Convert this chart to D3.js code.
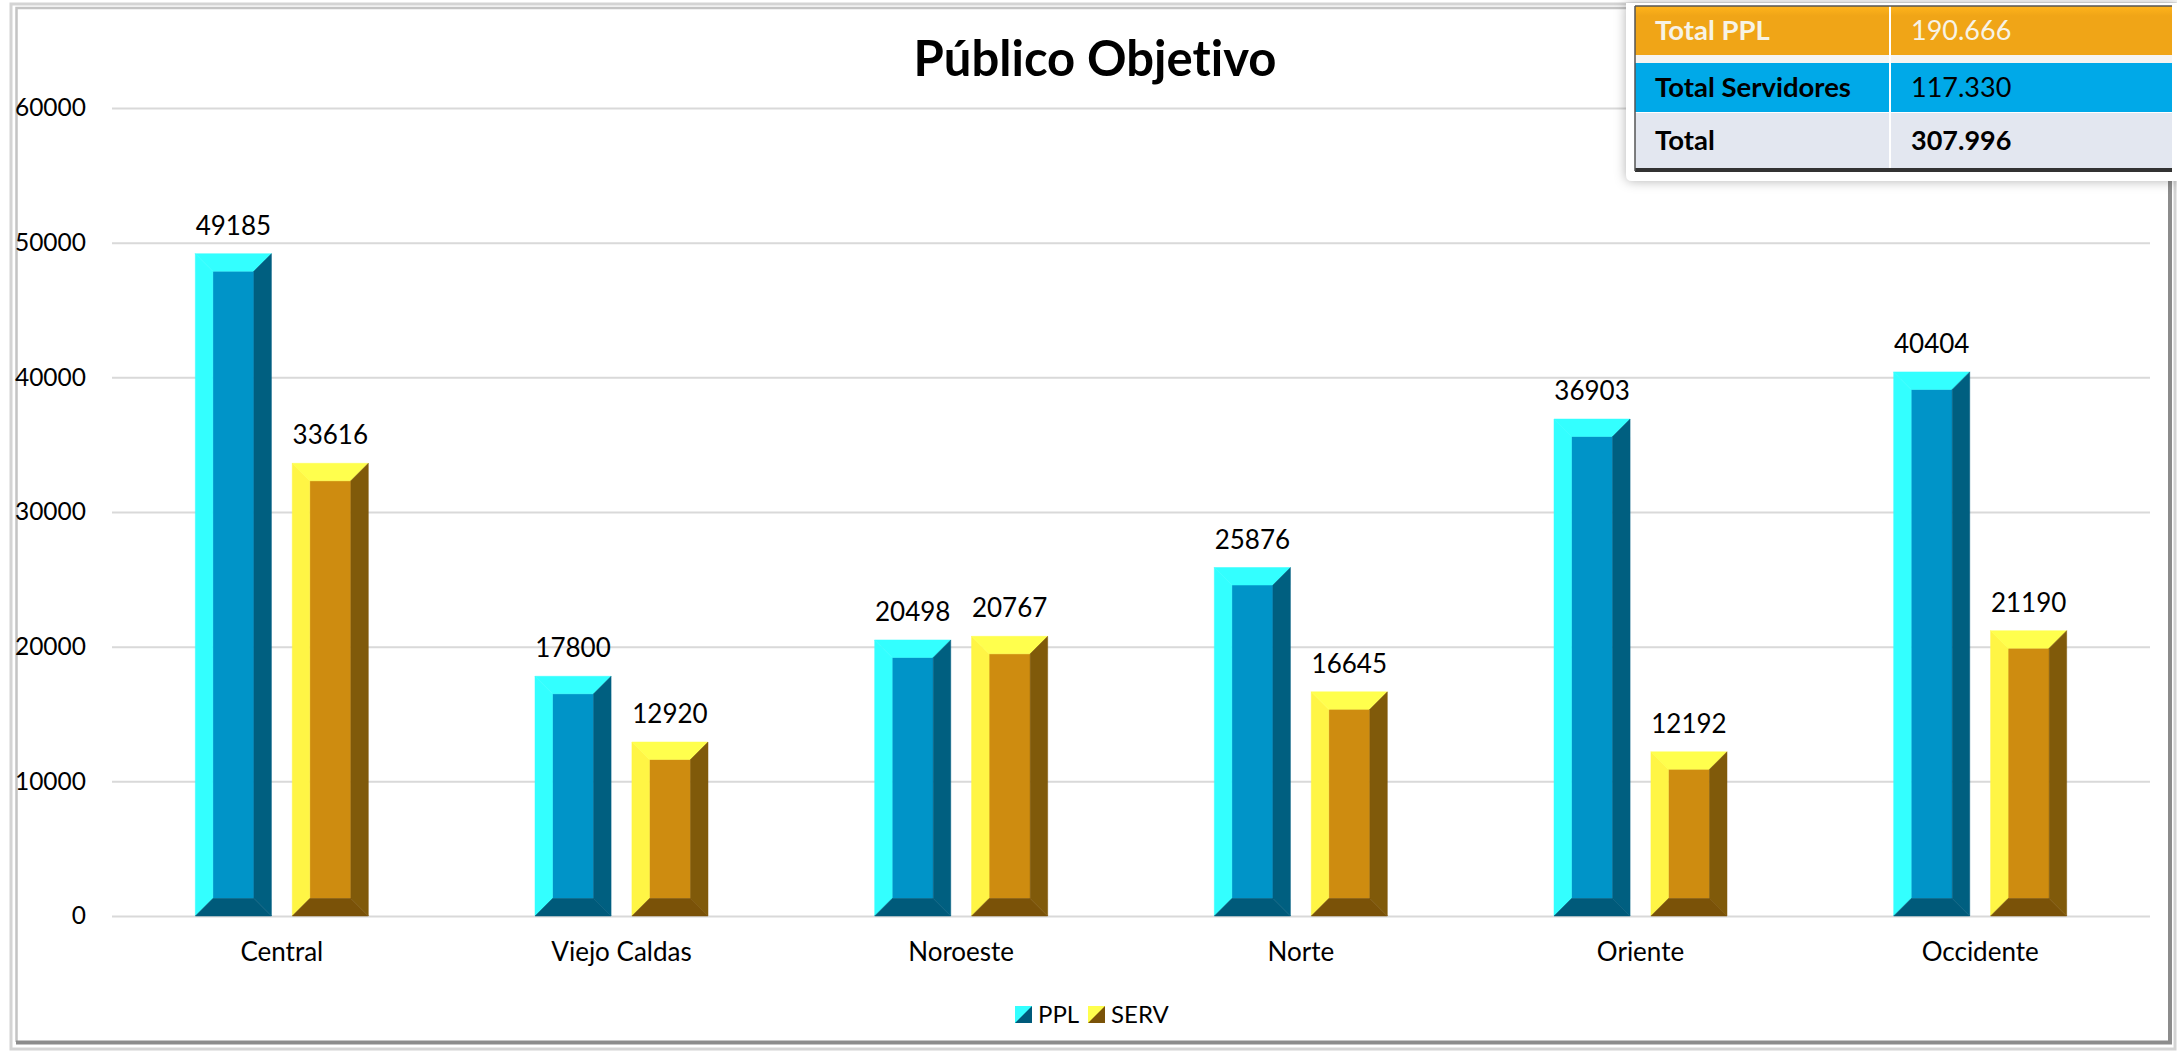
<!DOCTYPE html>
<html>
<head>
<meta charset="utf-8">
<script src="https://cdn.jsdelivr.net/npm/d3@7"></script>
<style>
  html, body { margin: 0; padding: 0; background: #fff; }
  svg { display: block; }
  text { font-family: Lato, "Open Sans", sans-serif; fill: #000; font-variant-ligatures: none; }
</style>
</head>
<body>
<svg id="chart" width="2177" height="1052"></svg>
<script>
const categories = ["Central", "Viejo Caldas", "Noroeste", "Norte", "Oriente", "Occidente"];
const ppl = [49185, 17800, 20498, 25876, 36903, 40404];
const serv = [33616, 12920, 20767, 16645, 12192, 21190];
const seriesNames = ["PPL", "SERV"];
const yTicks = [0, 10000, 20000, 30000, 40000, 50000, 60000];
const tableLabels = ["Total PPL", "Total Servidores", "Total"];
const tableValues = ["190.666", "117.330", "307.996"];

const width = 2177;
const height = 1052;
const margin = { top: 108, right: 27, bottom: 136, left: 112 };
const bevel = 17.5;

const faces = {
  PPL: { top: "#33ffff", left: "#33ffff", front: "#0094c8", right: "#005f80", bottom: "#005a7a" },
  SERV: { top: "#ffff4d", left: "#fff545", front: "#ce8c10", right: "#805a0a", bottom: "#7a5208" }
};

const svg = d3.select("#chart");

// Orange header row is a little lighter along its top edge
const grad = svg.append("defs").append("linearGradient")
  .attr("id", "orangeRow").attr("x1", 0).attr("x2", 0).attr("y1", 0).attr("y2", 1);
grad.append("stop").attr("offset", 0).attr("stop-color", "#ffb41c");
grad.append("stop").attr("offset", 0.2).attr("stop-color", "#f0a517");
grad.append("stop").attr("offset", 1).attr("stop-color", "#f0a517");

// Frame round the chart
const frame = svg.append("g");
frame.append("rect").attr("x", 11).attr("y", 4).attr("width", 2164).attr("height", 1045)
  .attr("fill", "none").attr("stroke", "#d4d4d4").attr("stroke-width", 3);
frame.append("rect").attr("x", 17).attr("y", 7).attr("width", 2152).attr("height", 1035)
  .attr("fill", "#fff");
frame.append("path").attr("d", "M16.5 1042V8H2169")
  .attr("fill", "none").attr("stroke", "#c4c4c4").attr("stroke-width", 2.5);
frame.append("path").attr("d", "M16 1042.5H2170V8")
  .attr("fill", "none").attr("stroke", "#8c8c8c").attr("stroke-width", 4);

const x = d3.scaleBand()
  .domain(categories)
  .range([margin.left, width - margin.right]);

const xInner = d3.scaleBand()
  .domain(seriesNames)
  .range([x.bandwidth() / 2 - 86.5, x.bandwidth() / 2 + 86.5])
  .paddingInner(0.215)
  .paddingOuter(0);

const y = d3.scaleLinear()
  .domain([0, 60000])
  .range([height - margin.bottom, margin.top]);

// Gridlines and value axis
const yAxis = svg.append("g")
  .attr("transform", `translate(${margin.left}, 0)`)
  .call(d3.axisLeft(y).tickValues(yTicks).tickFormat(d3.format("d"))
    .tickSize(-(width - margin.left - margin.right)).tickPadding(26));
yAxis.select(".domain").remove();
yAxis.selectAll("line").attr("stroke", "#d9d9d9").attr("stroke-width", 2);
yAxis.selectAll("text").style("font-size", "24.5px").attr("fill", "#000");

// Category axis
const xAxis = svg.append("g")
  .attr("transform", `translate(0, ${height - margin.bottom})`)
  .call(d3.axisBottom(x).tickSize(0).tickPadding(27));
xAxis.select(".domain").remove();
xAxis.selectAll("text").style("font-size", "26px").attr("fill", "#000");

// Bars drawn as five bevelled faces
function drawBar(g, cat, name, value) {
  const c = faces[name];
  const x0 = x(cat) + xInner(name);
  const x1 = x0 + xInner.bandwidth();
  const y0 = y(value);
  const y1 = y(0);
  const b = bevel;
  const poly = (pts, fill) => g.append("polygon")
    .attr("points", pts.map((p) => p.join(",")).join(" "))
    .attr("fill", fill).attr("stroke", fill).attr("stroke-width", 0.5);
  poly([[x0 + b, y0 + b], [x1 - b, y0 + b], [x1 - b, y1 - b], [x0 + b, y1 - b]], c.front);
  poly([[x0, y0], [x0 + b, y0 + b], [x0 + b, y1 - b], [x0, y1]], c.left);
  poly([[x0, y0], [x1, y0], [x1 - b, y0 + b], [x0 + b, y0 + b]], c.top);
  poly([[x1, y0], [x1, y1], [x1 - b, y1 - b], [x1 - b, y0 + b]], c.right);
  poly([[x0, y1], [x0 + b, y1 - b], [x1 - b, y1 - b], [x1, y1]], c.bottom);
  g.append("text")
    .attr("x", (x0 + x1) / 2)
    .attr("y", y0 - 19)
    .attr("text-anchor", "middle")
    .style("font-size", "26px")
    .text(value);
}

const bars = svg.append("g");
categories.forEach((cat, i) => {
  drawBar(bars, cat, "PPL", ppl[i]);
  drawBar(bars, cat, "SERV", serv[i]);
});

// Title
svg.append("text")
  .attr("x", 1095)
  .attr("y", 76)
  .attr("text-anchor", "middle")
  .style("font-size", "49px")
  .style("font-weight", 700)
  .text("Público Objetivo");

// Legend
const legendX = [1015, 1088];
seriesNames.forEach((name, i) => {
  const lg = svg.append("g").attr("transform", `translate(${legendX[i]}, 1006)`);
  lg.append("rect").attr("width", 17).attr("height", 17).attr("fill", faces[name].bottom);
  lg.append("polygon").attr("points", "0,0 17,0 0,17").attr("fill", faces[name].top);
  lg.append("text").attr("x", 23).attr("y", 17)
    .style("font-size", "24px").text(name);
});

// Totals table pasted over the corner
const table = svg.append("g");
table.append("path")
  .attr("d", "M1626 3H2177V181H1632Q1626 181 1626 175Z")
  .attr("fill", "#fff")
  .style("filter", "drop-shadow(0 0 6px rgba(0,0,0,0.3))");

const rowY = [6, 63, 113];
const rowH = [49, 49, 55];
const rowFill = ["url(#orangeRow)", "#00a9e8", "#e3e7f0"];
const rowText = ["#f7f3e6", "#000", "#000"];
const valueWeight = [400, 400, 700];
const tableLeft = 1635;
const tableRight = 2172;
const colSplit = 1890;

rowFill.forEach((fill, i) => {
  table.append("rect").attr("x", tableLeft).attr("y", rowY[i])
    .attr("width", tableRight - tableLeft).attr("height", rowH[i]).attr("fill", fill);
  table.append("text").attr("x", 1655).attr("y", rowY[i] + rowH[i] / 2 + 9.5)
    .style("font-size", "27.5px").style("font-weight", 700)
    .style("fill", rowText[i]).text(tableLabels[i]);
  table.append("text").attr("x", 1911).attr("y", rowY[i] + rowH[i] / 2 + 9.5)
    .style("font-size", "27px").style("font-weight", valueWeight[i])
    .style("fill", rowText[i]).text(tableValues[i]);
});
table.append("rect").attr("x", tableLeft).attr("y", 55).attr("width", tableRight - tableLeft)
  .attr("height", 8).attr("fill", "#f6f4f1");
table.append("line").attr("x1", colSplit).attr("x2", colSplit).attr("y1", 6).attr("y2", 168)
  .attr("stroke", "#fff").attr("stroke-width", 2);
table.append("line").attr("x1", tableLeft).attr("x2", tableRight).attr("y1", 170).attr("y2", 170)
  .attr("stroke", "#333").attr("stroke-width", 4);
table.append("line").attr("x1", tableLeft).attr("x2", tableLeft).attr("y1", 6).attr("y2", 171)
  .attr("stroke", "#555").attr("stroke-width", 1.5);
table.append("line").attr("x1", tableLeft).attr("x2", tableRight).attr("y1", 6).attr("y2", 6)
  .attr("stroke", "#555").attr("stroke-width", 1.5);
</script>
</body>
</html>
